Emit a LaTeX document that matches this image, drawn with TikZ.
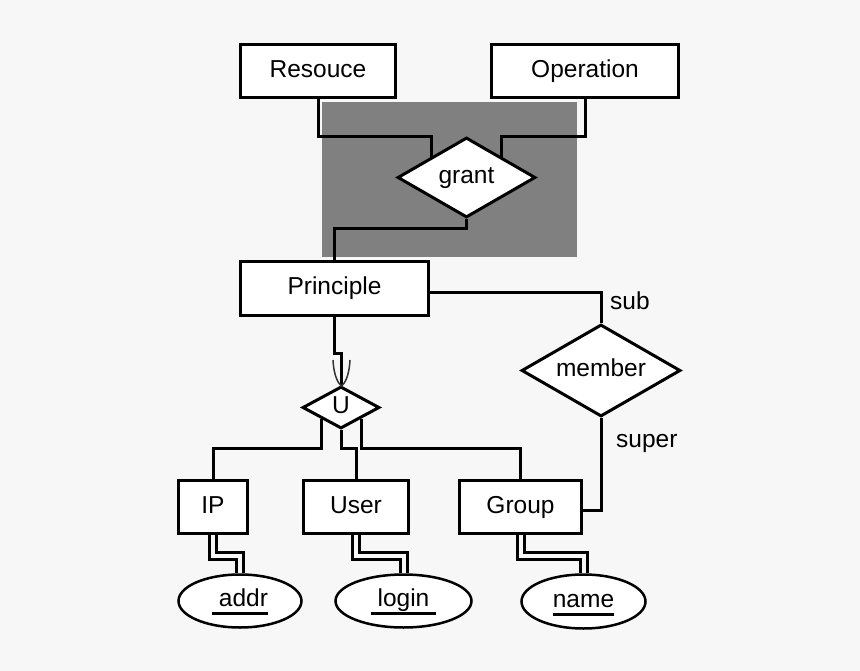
\documentclass[tikz,border=0pt]{standalone}
\usepackage{fontspec}
\setmainfont{Liberation Sans}
\usetikzlibrary{shapes.geometric,calc}
\newcommand\ulbox[1]{\setbox0\hbox{#1}\rlap{\rule[-8.5pt]{\wd0}{3.2pt}}\box0}
\begin{document}
\begin{tikzpicture}[x=1pt,y=-1pt,
  every node/.style={font=\fontsize{24.5}{29}\selectfont, inner sep=0pt},
  ent/.style={draw, line width=3pt, fill=white, rectangle, text height=17.5pt, text depth=5pt},
  rel/.style={draw, line width=3pt, fill=white, diamond, aspect=2, text height=17.5pt, text depth=5pt},
  attr/.style={draw, line width=2.5pt, fill=white, ellipse, text height=20pt, text depth=8.5pt},
  conn/.style={line width=3pt},
  dbl/.style={double=bgcol, double distance=4pt, line width=3pt},
  lbl/.style={anchor=base west}]
\definecolor{bgcol}{HTML}{F7F7F7}
\definecolor{greyfill}{HTML}{808080}
\fill[bgcol] (0,0) rectangle (860,671);
\useasboundingbox (0,0) rectangle (860,671);
\fill[greyfill] (322,102) rectangle (577,257);

\node[ent, minimum width=155pt, minimum height=53pt] (res) at (318,71) {Resouce};
\node[ent, minimum width=187pt, minimum height=53pt] (op) at (585,71) {Operation};
\node[rel, minimum width=138pt, minimum height=80pt] (grant) at (466.5,177.5) {grant};
\node[ent, minimum width=188pt, minimum height=54pt] (prin) at (334.5,288.5) {Principle};
\node[rel, minimum width=159pt, minimum height=92pt] (mem) at (601,370.5) {member};
\node[rel, minimum width=77pt, minimum height=42pt] (u) at (341,407.5) {U};
\node[ent, minimum width=69pt, minimum height=53pt] (ip) at (213,507) {IP};
\node[ent, minimum width=105pt, minimum height=53pt] (usr) at (356,507) {User};
\node[ent, minimum width=122pt, minimum height=53pt] (grp) at (520.5,507) {Group};
\node[attr, minimum width=123pt, minimum height=53pt] (addr) at (240,601) {\ulbox{\ addr}};
\node[attr, minimum width=136pt, minimum height=53pt] (login) at (403.5,601) {\ulbox{\ login\ }};
\node[attr, minimum width=124pt, minimum height=54pt] (name) at (583.5,601.5) {\ulbox{name}};

\node[lbl] (sub) at (610,309) {sub};
\node[lbl] (super) at (616,447) {super};

\coordinate (hy) at (0,448);
\coordinate (dy) at (0,556);

\draw[conn] (res.south) -- ++(0,38) -| (grant.north west);
\draw[conn] (op.south) -- ++(0,38) -| (grant.north east);
\draw[conn] (grant.south) -- ++(0,10) -| (prin.north);
\draw[conn] ($(prin.east)+(0,4)$) -| (mem.north);
\draw[conn] (mem.south) |- ($(grp.east)+(0,3)$);
\draw[conn] (prin.south) -- ++(0,36) -| (u.north);
\draw[line width=1.5pt, black!80] (333,360) .. controls (334,378) and (339,384) .. (341.5,386) .. controls (344,384) and (349,378) .. (350,360);
\draw[conn] (u.south west) -- (u.south west |- hy) -| (ip.north);
\draw[conn] (u.south) -- (u.south |- hy) -| (usr.north);
\draw[conn] (u.south east) -- (u.south east |- hy) -| (grp.north);

\draw[dbl] (ip.south) -- (ip.south |- dy) -| (addr.north);
\draw[dbl] (usr.south) -- (usr.south |- dy) -| (login.north);
\draw[dbl] (grp.south) -- (grp.south |- dy) -| (name.north);
\end{tikzpicture}
\end{document}
